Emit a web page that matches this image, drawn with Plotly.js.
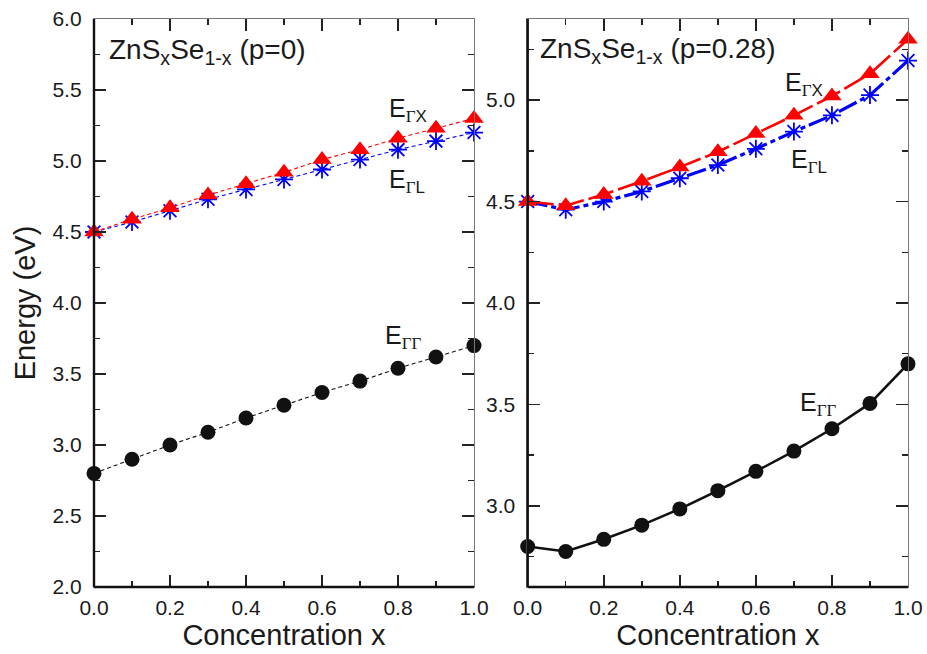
<!DOCTYPE html>
<html>
<head>
<meta charset="utf-8">
<script src="https://cdn.plot.ly/plotly-3.0.1.min.js"></script>
<style>html,body{margin:0;padding:0;background:#fff;}#chart{width:927px;height:654px;}</style>
</head>
<body>
<div id="chart"></div>
<script>
// Concentration x
const conc = [0.0, 0.1, 0.2, 0.3, 0.4, 0.5, 0.6, 0.7, 0.8, 0.9, 1.0];

// Left panel: ZnSxSe1-x (p=0)
const p0_EGG = [2.80, 2.90, 3.00, 3.09, 3.19, 3.28, 3.37, 3.45, 3.54, 3.62, 3.70];
const p0_EGL = [4.50, 4.57, 4.65, 4.73, 4.80, 4.87, 4.94, 5.01, 5.08, 5.14, 5.20];
const p0_EGX = [4.50, 4.59, 4.67, 4.76, 4.84, 4.92, 5.01, 5.08, 5.16, 5.23, 5.30];

// Right panel: ZnSxSe1-x (p=0.28)
const p28_EGG = [2.80, 2.775, 2.835, 2.905, 2.985, 3.075, 3.17, 3.27, 3.38, 3.505, 3.70];
const p28_EGL = [4.50, 4.46, 4.50, 4.55, 4.615, 4.68, 4.76, 4.845, 4.925, 5.025, 5.195];
const p28_EGX = [4.50, 4.48, 4.535, 4.60, 4.67, 4.745, 4.835, 4.925, 5.02, 5.13, 5.30];

const xTickVals = [0, 0.2, 0.4, 0.6, 0.8, 1.0];
const yTickValsLeft = [2.0, 2.5, 3.0, 3.5, 4.0, 4.5, 5.0, 5.5, 6.0];
const yTickValsRight = [3.0, 3.5, 4.0, 4.5, 5.0];

const FONT = "'Liberation Sans', Arial, Helvetica, sans-serif";
const TXT = '#1a1a1a';

const RED = '#ff0000', BLUE = '#0000ff', BLACK = '#111111';

function circle(xa, ya, y, dash, w) {
  return {x: conc, y: y, xaxis: xa, yaxis: ya, type: 'scatter', mode: 'lines+markers', cliponaxis: false,
    line: {color: BLACK, width: w, dash: dash},
    marker: {symbol: 'circle', size: 15, color: BLACK}, showlegend: false};
}
function star(xa, ya, y, dash, w) {
  return {x: conc, y: y, xaxis: xa, yaxis: ya, type: 'scatter', mode: 'lines+markers', cliponaxis: false,
    line: {color: BLUE, width: w, dash: dash},
    marker: {symbol: 'asterisk-open', size: 15, color: BLUE, line: {color: BLUE, width: 1.8}}, showlegend: false};
}
function tri(xa, ya, y, dash, w) {
  return {x: conc, y: y, xaxis: xa, yaxis: ya, type: 'scatter', mode: 'lines+markers', cliponaxis: false,
    line: {color: RED, width: w, dash: dash},
    marker: {symbol: 'triangle-up', size: 17, color: RED}, showlegend: false};
}

const data = [
  circle('x', 'y', p0_EGG, '4px,3px', 1.1),
  star('x', 'y', p0_EGL, '4px,3px', 1.1),
  tri('x', 'y', p0_EGX, '4px,3px', 1.1),
  circle('x2', 'y2', p28_EGG, 'solid', 2.6),
  star('x2', 'y2', p28_EGL, '20px,4px,5px,4px', 3.2),
  tri('x2', 'y2', p28_EGX, '26px,5px', 2.6)
];

const xCommon = {
  range: [0, 1], tickvals: xTickVals, tickformat: '.1f',
  ticks: 'inside', ticklen: 12, tickwidth: 1.5, tickcolor: '#222',
  minor: {dtick: 0.1, tick0: 0, ticks: 'inside', ticklen: 6, tickwidth: 1.5, tickcolor: '#222'},
  showline: true, linecolor: '#777', linewidth: 1.2, mirror: 'ticks',
  showgrid: false, zeroline: false,
  tickfont: {family: FONT, size: 21, color: TXT},
  ticklabelstandoff: 2
};
const yCommon = {
  tickformat: '.1f',
  ticks: 'inside', ticklen: 12, tickwidth: 1.5, tickcolor: '#222',
  minor: {dtick: 0.25, tick0: 0, ticks: 'inside', ticklen: 6, tickwidth: 1.5, tickcolor: '#222'},
  showline: true, linecolor: '#777', linewidth: 1.2, mirror: 'ticks',
  showgrid: false, zeroline: false,
  tickfont: {family: FONT, size: 21, color: TXT},
  ticklabelstandoff: 7
};

const G = '<span style="font-family:' + "'Liberation Serif'" + '">Γ</span>';
function label(xref, yref, x, y, sub) {
  return {xref: xref, yref: yref, x: x, y: y, xanchor: 'left', yanchor: 'middle', showarrow: false,
    text: 'E<sub><span style="font-size:17px">' + sub + '</span></sub>', font: {family: FONT, size: 25, color: TXT}};
}

const layout = {
  width: 927, height: 654,
  margin: {l: 94, r: 19, t: 19, b: 67},
  paper_bgcolor: '#ffffff', plot_bgcolor: '#ffffff',
  showlegend: false,
  xaxis: Object.assign({}, xCommon, {domain: [0, 0.4668], anchor: 'y',
    title: {text: 'Concentration x', font: {family: FONT, size: 29, color: TXT}, standoff: 2}}),
  xaxis2: Object.assign({}, xCommon, {domain: [0.5328, 1], anchor: 'y2',
    title: {text: 'Concentration x', font: {family: FONT, size: 29, color: TXT}, standoff: 2}}),
  yaxis: Object.assign({}, yCommon, {range: [2.0, 6.0], tickvals: yTickValsLeft, anchor: 'x',
    title: {text: 'Energy (eV)', font: {family: FONT, size: 29, color: TXT}, standoff: 8}}),
  yaxis2: Object.assign({}, yCommon, {range: [2.6, 5.4], tickvals: yTickValsRight, anchor: 'x2'}),
  shapes: [
    {type: 'line', xref: 'x domain', yref: 'y domain', x0: 0, x1: 0, y0: 0, y1: 1, line: {color: BLACK, width: 2.4}},
    {type: 'line', xref: 'x domain', yref: 'y domain', x0: 0, x1: 1, y0: 0, y1: 0, line: {color: BLACK, width: 2.4}},
    {type: 'line', xref: 'x2 domain', yref: 'y2 domain', x0: 0, x1: 0, y0: 0, y1: 1, line: {color: BLACK, width: 2.4}},
    {type: 'line', xref: 'x2 domain', yref: 'y2 domain', x0: 0, x1: 1, y0: 0, y1: 0, line: {color: BLACK, width: 2.4}}
  ],
  annotations: [
    {xref: 'x', yref: 'y', x: 0.033, y: 5.77, xanchor: 'left', yanchor: 'middle', showarrow: false,
      text: 'ZnS<sub>x</sub>Se<sub>1-x</sub> (p=0)', font: {family: FONT, size: 28, color: TXT}},
    {xref: 'x2', yref: 'y2', x: 0.026, y: 5.245, xanchor: 'left', yanchor: 'middle', showarrow: false,
      text: 'ZnS<sub>x</sub>Se<sub>1-x</sub> (p=0.28)', font: {family: FONT, size: 28, color: TXT}},
    label('x', 'y', 0.77, 5.36, G + 'X'),
    label('x', 'y', 0.77, 4.86, G + 'L'),
    label('x', 'y', 0.76, 3.76, G + G),
    label('x2', 'y2', 0.672, 5.08, G + 'X'),
    label('x2', 'y2', 0.687, 4.70, G + 'L'),
    label('x2', 'y2', 0.711, 3.50, G + G)
  ]
};

Plotly.newPlot('chart', data, layout, {displayModeBar: false, staticPlot: true});
</script>
</body>
</html>
